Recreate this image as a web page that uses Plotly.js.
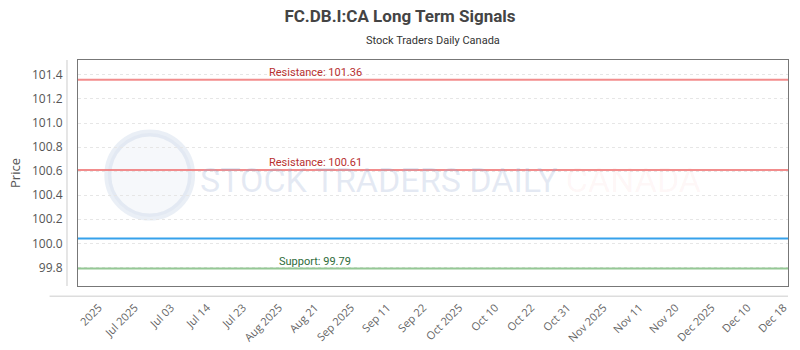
<!DOCTYPE html>
<html>
<head>
<meta charset="utf-8">
<script src="https://cdn.plot.ly/plotly-3.0.1.min.js"></script>
<style>html,body{margin:0;padding:0;background:#fff;}#chart{width:800px;height:350px;}</style>
</head>
<body>
<div id="chart"></div>
<script>
const tickLabels = ["2025","Jul 2025","Jul 03","Jul 14","Jul 23","Aug 2025","Aug 21","Sep 2025","Sep 11","Sep 22","Oct 2025","Oct 10","Oct 22","Oct 31","Nov 2025","Nov 11","Nov 20","Dec 2025","Dec 10","Dec 18"];
const resistanceLevels = [101.36, 100.61];
const supportLevels = [99.79];
const currentPrice = [100.04];

const xs = tickLabels.map((_, i) => i);
const xFull = [-0.6, 19.2];

const traces = [];
resistanceLevels.forEach(v => traces.push({x: xFull, y: [v, v], mode: 'lines', line: {color: 'rgba(240,120,120,0.85)', width: 2}, hoverinfo: 'skip'}));
supportLevels.forEach(v => traces.push({x: xFull, y: [v, v], mode: 'lines', line: {color: 'rgba(130,190,130,0.85)', width: 2}, hoverinfo: 'skip'}));
currentPrice.forEach(v => traces.push({x: xFull, y: [v, v], mode: 'lines', line: {color: 'rgb(54,162,235)', width: 2}, hoverinfo: 'skip'}));

const annotations = [];
resistanceLevels.forEach(v => annotations.push({x: 6, y: v, xref: 'x', yref: 'y', text: 'Resistance: ' + v.toFixed(2), showarrow: false, yanchor: 'bottom', yshift: -1, font: {family: 'Roboto, sans-serif', size: 11, color: '#b8302f'}}));
supportLevels.forEach(v => annotations.push({x: 6, y: v, xref: 'x', yref: 'y', text: 'Support: ' + v.toFixed(2), showarrow: false, yanchor: 'bottom', yshift: -1, font: {family: 'Roboto, sans-serif', size: 11, color: '#2e6b3a'}}));
// subtitle
annotations.push({x: 0.5, y: 1.088, xref: 'paper', yref: 'paper', yanchor: 'middle', text: 'Stock Traders Daily Canada', showarrow: false, font: {family: 'Roboto, sans-serif', size: 11, color: '#333'}});
// watermark
annotations.push({x: 0.524, y: 0.47, xref: 'paper', yref: 'paper', yanchor: 'middle', text: 'STOCK TRADERS DAILY <span style="color:rgba(245,140,140,0.3)">CANADA</span>', showarrow: false, font: {family: 'Roboto, sans-serif', size: 34, color: 'rgba(150,170,210,0.25)'}});

const layout = {
  width: 800, height: 350,
  margin: {l: 78, r: 12, t: 60, b: 64},
  paper_bgcolor: '#fff', plot_bgcolor: '#fff',
  showlegend: false,
  title: {text: '<b>FC.DB.I:CA Long Term Signals</b>', x: 0.5, xanchor: 'center', y: 0.954, yanchor: 'middle', font: {family: 'Roboto, sans-serif', size: 17, color: '#444'}},
  xaxis: {
    range: [-0.58, 19.12], tickmode: 'array', tickvals: xs, ticktext: tickLabels,
    tickangle: -45, showgrid: false, zeroline: false, ticks: '', ticklabelstandoff: 10,
    showline: true, mirror: true, linecolor: '#777', linewidth: 1,
    tickfont: {family: '"Open Sans", sans-serif', size: 11, color: '#666'}
  },
  yaxis: {
    range: [99.645, 101.524], tickmode: 'array', tickvals: [99.8,100.0,100.2,100.4,100.6,100.8,101.0,101.2,101.4],
    tickformat: '.1f', showgrid: true, gridcolor: '#e6e6e6', griddash: 'dot', zeroline: false, ticks: '', ticklabelstandoff: 12,
    showline: true, mirror: true, linecolor: '#777', linewidth: 1,
    tickfont: {family: '"Open Sans", sans-serif', size: 12, color: '#555'},
    title: {text: 'Price', font: {family: '"Open Sans", sans-serif', size: 13, color: '#555'}, standoff: 8}
  },
  annotations: annotations,
  shapes: [
    {type: 'line', xref: 'paper', yref: 'paper', x0: -0.0155, x1: -0.0155, y0: 0, y1: 1, line: {color: '#ccc', width: 1}},
    {type: 'line', xref: 'paper', yref: 'paper', x0: -0.04, x1: 1.0, y0: -0.045, y1: -0.045, line: {color: '#ccc', width: 1}},
    {type: 'circle', xref: 'paper', yref: 'paper', x0: 0.042, x1: 0.16, y0: 0.305, y1: 0.677, line: {color: 'rgba(160,180,215,0.22)', width: 7}, fillcolor: 'rgba(170,185,215,0.1)', layer: 'below'}
  ]
};

Plotly.newPlot('chart', traces, layout, {staticPlot: true, displayModeBar: false});
</script>
</body>
</html>
